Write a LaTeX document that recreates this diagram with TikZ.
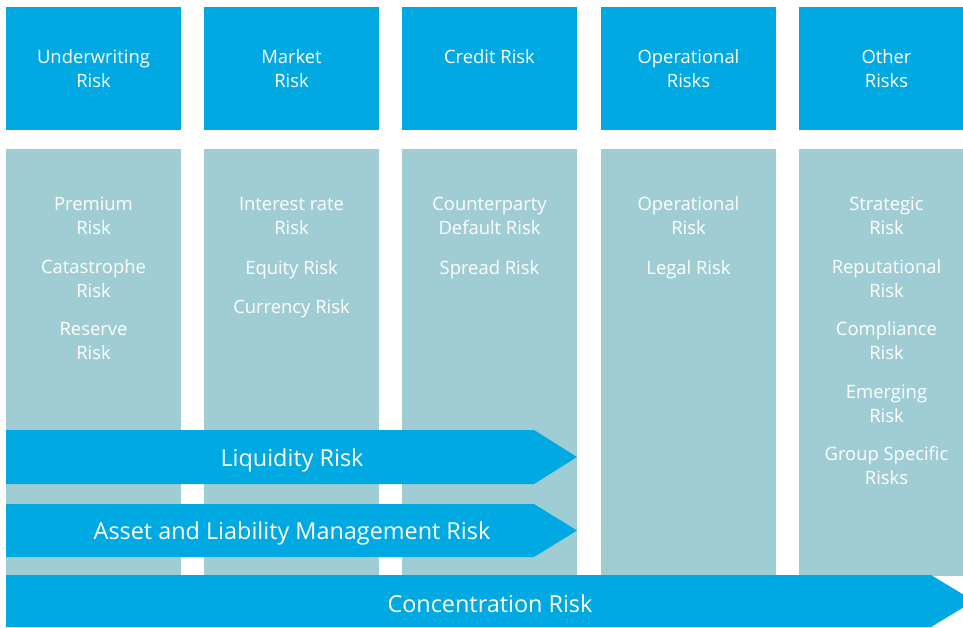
\documentclass[tikz,border=0pt]{standalone}
\usepackage{fontspec}
\setmainfont{Open Sans}
\usepackage{tikz}

\definecolor{riskblue}{HTML}{00A9E2}
\definecolor{riskgrey}{HTML}{A0CDD3}

\tikzset{
  headbox/.style={fill=riskblue, draw=none},
  colbox/.style={fill=riskgrey, draw=none},
  headtext/.style={text=white, align=center, inner sep=0pt, font=\fontsize{18.4}{24}\selectfont},
  itemtext/.style={text=white, align=center, inner sep=0pt, font=\fontsize{18.4}{24}\selectfont},
  arrowtext/.style={text=white, inner sep=0pt, font=\fontsize{23.4}{26}\selectfont},
}

\begin{document}
\begin{tikzpicture}[%
      x=1pt, y=-1pt,
      ]
      \useasboundingbox (0,0) rectangle (963,627);
      \clip (0,0) rectangle (963,627);

      % header boxes
      \fill [headbox] (6,7) rectangle (181,130);
      \fill [headbox] (204,7) rectangle (379,130);
      \fill [headbox] (402,7) rectangle (577,130);
      \fill [headbox] (601,7) rectangle (776,130);
      \fill [headbox] (799,7) rectangle (974,130);

      % columns
      \fill [colbox] (6,149) rectangle (181,576);
      \fill [colbox] (204,149) rectangle (379,576);
      \fill [colbox] (402,149) rectangle (577,576);
      \fill [colbox] (601,149) rectangle (776,576);
      \fill [colbox] (799,149) rectangle (974,576);

      \node [headtext] (uw) at (93.5,69) {Underwriting\\Risk};
      \node [headtext] (mk) at (291.5,69) {Market\\Risk};
      \node [headtext] (cr) at (489.5,57) {Credit Risk};
      \node [headtext] (op) at (688.5,69) {Operational\\Risks};
      \node [headtext] (ot) at (886.5,69) {Other\\Risks};

      \node [itemtext] (uw1) at (93.5,216) {Premium\\Risk};
      \node [itemtext] (uw2) at (93.5,279) {Catastrophe\\Risk};
      \node [itemtext] (uw3) at (93.5,341) {Reserve\\Risk};

      \node [itemtext] (mk1) at (291.5,216) {Interest rate\\Risk};
      \node [itemtext] (mk2) at (291.5,270) {Equity Risk};
      \node [itemtext] (mk3) at (291.5,309) {Currency Risk};

      \node [itemtext] (cr1) at (489.5,216) {Counterparty\\Default Risk};
      \node [itemtext] (cr2) at (489.5,270) {Spread Risk};

      \node [itemtext] (op1) at (688.5,216) {Operational\\Risk};
      \node [itemtext] (op2) at (688.5,270) {Legal Risk};

      \node [itemtext] (ot1) at (886.5,216) {Strategic\\Risk};
      \node [itemtext] (ot2) at (886.5,279) {Reputational\\Risk};
      \node [itemtext] (ot3) at (886.5,341) {Compliance\\Risk};
      \node [itemtext] (ot4) at (886.5,404) {Emerging\\Risk};
      \node [itemtext] (ot5) at (886.5,466) {Group Specific\\Risks};

      % arrows across the columns
      \fill [headbox] (6,430) -- (534,430) -- (577,457) -- (534,484) -- (6,484) -- cycle;
      \fill [headbox] (6,504) -- (534,504) -- (577,530.5) -- (534,557) -- (6,557) -- cycle;
      \fill [headbox] (6,575) -- (931,575) -- (974,601) -- (931,627) -- (6,627) -- cycle;

      \node [arrowtext] (liq) at (292,460) {Liquidity Risk};
      \node [arrowtext] (alm) at (292,533) {Asset and Liability Management Risk};
      \node [arrowtext] (con) at (490,604) {Concentration Risk};
\end{tikzpicture}
\end{document}
